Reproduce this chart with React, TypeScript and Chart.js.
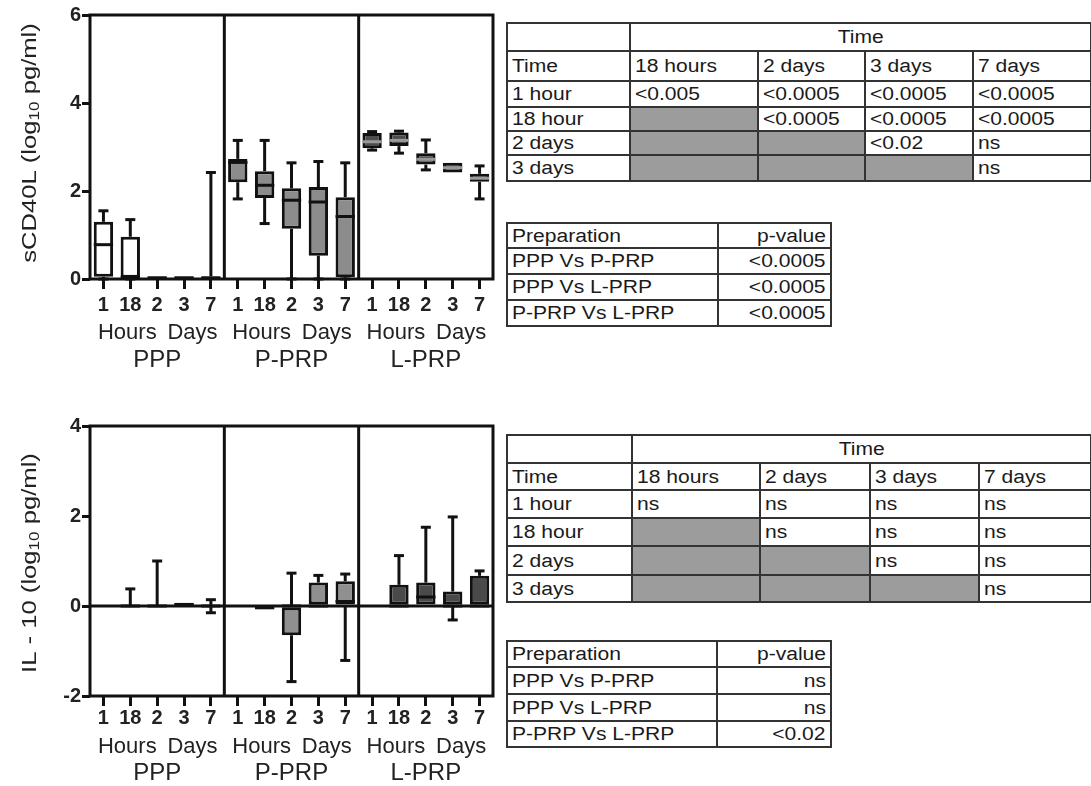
import React, { useEffect, useRef } from "react";
import { Chart, registerables } from "chart.js";

Chart.register(...registerables);

const FONT = '"Liberation Sans", Arial, Helvetica, sans-serif';

// ---------- shared category data ----------
const timeLabels = ["1", "18", "2", "3", "7", "1", "18", "2", "3", "7", "1", "18", "2", "3", "7"];
const groupNames = ["PPP", "P-PRP", "L-PRP"];
const unitNames = ["Hours", "Days"];

// ---------- sCD40L (log10 pg/ml) box statistics ----------
const sMin = [0, 0, 0, 0, 0, 1.82, 1.26, 0, 0, 0, 2.93, 2.86, 2.48, 2.42, 1.82];
const sQ1 = [0.05, 0.03, 0, 0, 0, 2.2, 1.84, 1.14, 0.53, 0.04, 2.97, 3.02, 2.6, 2.42, 2.21];
const sMed = [0.78, 0.04, 0.02, 0.02, 0.02, 2.65, 2.13, 1.79, 1.75, 1.42, 3.12, 3.15, 2.72, 2.53, 2.29];
const sQ3 = [1.3, 0.96, 0.06, 0.06, 0.06, 2.73, 2.45, 2.06, 2.09, 1.86, 3.32, 3.33, 2.86, 2.64, 2.39];
const sMax = [1.55, 1.35, 0.06, 0.06, 2.42, 3.15, 3.15, 2.64, 2.67, 2.64, 3.35, 3.36, 3.16, 2.64, 2.57];
const sTicks = [0, 2, 4, 6];

// ---------- IL-10 (log10 pg/ml) box statistics ----------
const iMin = [null, 0, 0, 0, -0.15, null, -0.04, -1.68, 0, -1.21, null, 0, 0, -0.31, 0];
const iQ1 = [null, 0, 0, 0, 0, null, -0.04, -0.65, 0, 0, null, 0, 0, 0, 0];
const iMed = [null, 0, 0, 0.03, 0, null, -0.04, 0, 0, 0.1, null, 0, 0.2, 0, 0];
const iQ3 = [null, 0, 0, 0.07, 0, null, 0, 0, 0.52, 0.55, null, 0.47, 0.52, 0.32, 0.67];
const iMax = [null, 0.38, 1.0, 0.07, 0.14, null, 0, 0.73, 0.68, 0.71, null, 1.12, 1.75, 1.98, 0.78];
const iTicks = [-2, 0, 2, 4];

// ---------- colours per group ----------
const topFills = ["#ffffff", "#8c8c8c", "#4d4d4d"];
const topMedians = ["#111111", "#111111", "#9a9a9a"];
const botFills = ["#111111", "#909090", "#4a4a4a"];
const botMedians = ["#111111", "#111111", "#111111"];

// ---------- tables ----------
const t1ColHeads = ["18 hours", "2 days", "3 days", "7 days"];
const t1RowHeads = ["1 hour", "18 hour", "2 days", "3 days"];
const t1Vals = [
  ["<0.005", "<0.0005", "<0.0005", "<0.0005"],
  [null, "<0.0005", "<0.0005", "<0.0005"],
  [null, null, "<0.02", "ns"],
  [null, null, null, "ns"],
];
const t2Rows = ["PPP Vs P-PRP", "PPP Vs L-PRP", "P-PRP Vs L-PRP"];
const t2Vals = ["<0.0005", "<0.0005", "<0.0005"];
const t3Vals = [
  ["ns", "ns", "ns", "ns"],
  [null, "ns", "ns", "ns"],
  [null, null, "ns", "ns"],
  [null, null, null, "ns"],
];
const t4Rows = ["PPP Vs P-PRP", "PPP Vs L-PRP", "P-PRP Vs L-PRP"];
const t4Vals = ["ns", "ns", "<0.02"];

const boxPlugin = {
  id: "boxes",
  afterDatasetsDraw(chart: any, _args: any, opts: any) {
    const { ctx, chartArea: a } = chart;
    const xs = chart.scales.x;
    const ys = chart.scales.y;
    const meta = chart.getDatasetMeta(0);
    const line = (x1: number, y1: number, x2: number, y2: number, color = "#111") => {
      ctx.beginPath();
      ctx.strokeStyle = color;
      ctx.moveTo(x1, y1);
      ctx.lineTo(x2, y2);
      ctx.stroke();
    };
    ctx.save();
    ctx.lineWidth = 3;
    ctx.lineCap = "butt";
    const st = opts.stats;
    for (let i = 0; i < st.q1.length; i++) {
      if (st.q1[i] == null) continue;
      const cx = xs.getPixelForValue(i);
      const bw = meta.data[i].width;
      const cap = 10;
      if (st.max[i] > st.q3[i]) {
        line(cx, ys.getPixelForValue(st.q3[i]), cx, ys.getPixelForValue(st.max[i]));
        line(cx - cap / 2, ys.getPixelForValue(st.max[i]), cx + cap / 2, ys.getPixelForValue(st.max[i]));
      }
      if (st.min[i] < st.q1[i]) {
        line(cx, ys.getPixelForValue(st.q1[i]), cx, ys.getPixelForValue(st.min[i]));
        line(cx - cap / 2, ys.getPixelForValue(st.min[i]), cx + cap / 2, ys.getPixelForValue(st.min[i]));
      }
      const g = Math.floor(i / 5);
      line(cx - bw / 2, ys.getPixelForValue(st.med[i]), cx + bw / 2, ys.getPixelForValue(st.med[i]), opts.medians[g]);
    }
    // frame and group dividers
    ctx.strokeStyle = "#111";
    ctx.strokeRect(a.left, a.top, a.right - a.left, a.bottom - a.top);
    for (const k of [5, 10]) {
      const xx = (xs.getPixelForValue(k - 1) + xs.getPixelForValue(k)) / 2;
      line(xx, a.top, xx, a.bottom);
    }
    if (opts.zeroLine) line(a.left, ys.getPixelForValue(0), a.right, ys.getPixelForValue(0));

    // unit and group labels
    ctx.fillStyle = "#222";
    ctx.textAlign = "center";
    ctx.textBaseline = "middle";
    for (let g = 0; g < 3; g++) {
      ctx.font = `22px ${FONT}`;
      const hx = xs.getPixelForValue(g * 5 + 1) - 3;
      const dx = (xs.getPixelForValue(g * 5 + 3) + xs.getPixelForValue(g * 5 + 4)) / 2 - 5;
      ctx.fillText(unitNames[0], hx, a.bottom + opts.unitDy);
      ctx.fillText(unitNames[1], dx, a.bottom + opts.unitDy);
      ctx.font = `24px ${FONT}`;
      ctx.fillText(groupNames[g], xs.getPixelForValue(g * 5 + 2), a.bottom + opts.groupDy);
    }

    // rotated y title with subscript
    const [pre, sub, post] = opts.title;
    ctx.font = `21px ${FONT}`;
    const w1 = ctx.measureText(pre).width;
    const w3 = ctx.measureText(post).width;
    ctx.font = `14px ${FONT}`;
    const w2 = ctx.measureText(sub).width;
    const W = w1 + w2 + w3;
    ctx.translate(30, (a.top + a.bottom) / 2 + opts.titleDy);
    ctx.rotate(-Math.PI / 2);
    ctx.scale(1.22, 1);
    ctx.textAlign = "left";
    ctx.font = `21px ${FONT}`;
    ctx.fillText(pre, -W / 2, 0);
    ctx.font = `14px ${FONT}`;
    ctx.fillText(sub, -W / 2 + w1, 5);
    ctx.font = `21px ${FONT}`;
    ctx.fillText(post, -W / 2 + w1 + w2, 0);
    ctx.restore();
  },
};

type BoxProps = {
  width: number;
  height: number;
  top: number;
  yMin: number;
  yMax: number;
  ticks: number[];
  min: (number | null)[];
  q1: (number | null)[];
  med: (number | null)[];
  q3: (number | null)[];
  max: (number | null)[];
  fills: string[];
  medians: string[];
  padTop: number;
  xHeight: number;
  labelPad: number;
  unitDy: number;
  groupDy: number;
  title: string[];
  titleDy: number;
  zeroLine: boolean;
};

function BoxChart(p: BoxProps) {
  const ref = useRef<HTMLCanvasElement>(null);
  useEffect(() => {
    if (!ref.current) return;
    const boxes = p.q1.map((q, i) => (q == null ? null : [q, p.q3[i] as number]));
    const fills = timeLabels.map((_, i) => p.fills[Math.floor(i / 5)]);
    const chart = new Chart(ref.current, {
      type: "bar",
      data: {
        labels: timeLabels,
        datasets: [
          {
            data: boxes as any,
            backgroundColor: fills,
            borderColor: "#111",
            borderWidth: 3,
            borderSkipped: false,
            barPercentage: 0.72,
            categoryPercentage: 1,
          },
        ],
      },
      options: {
        responsive: false,
        animation: false,
        layout: { padding: { top: p.padTop, right: 7, left: 0, bottom: 0 } },
        plugins: {
          legend: { display: false },
          tooltip: { enabled: false },
          boxes: {
            stats: { min: p.min, q1: p.q1, med: p.med, q3: p.q3, max: p.max },
            medians: p.medians,
            unitDy: p.unitDy,
            groupDy: p.groupDy,
            title: p.title,
            titleDy: p.titleDy,
            zeroLine: p.zeroLine,
          },
        } as any,
        scales: {
          x: {
            offset: true,
            grid: { display: true, drawOnChartArea: false, offset: false, tickLength: 10, lineWidth: 3, color: "#111" },
            border: { display: false },
            ticks: {
              font: { family: FONT, size: 20, weight: "bold" },
              color: "#222",
              padding: p.labelPad,
              maxRotation: 0,
              autoSkip: false,
            },
            afterFit: (s: any) => {
              s.height = p.xHeight;
            },
          },
          y: {
            min: p.yMin,
            max: p.yMax,
            afterBuildTicks: (s: any) => {
              s.ticks = p.ticks.map((v) => ({ value: v }));
            },
            grid: { display: true, drawOnChartArea: false, tickLength: 8, lineWidth: 3, color: "#111" },
            border: { display: false },
            ticks: {
              font: { family: FONT, size: 20, weight: "bold" },
              color: "#222",
              padding: 1,
            },
            afterFit: (s: any) => {
              s.width = 90;
            },
          },
        },
      } as any,
      plugins: [boxPlugin],
    });
    return () => chart.destroy();
  }, []);
  return (
    <canvas
      ref={ref}
      width={p.width}
      height={p.height}
      style={{ position: "absolute", left: 0, top: p.top, width: p.width, height: p.height, display: "block" }}
    />
  );
}

function Txt({ children, align = "left" }: { children: any; align?: string }) {
  return (
    <span
      style={{
        display: "inline-block",
        transform: "scaleX(1.17)",
        transformOrigin: align === "right" ? "right center" : align === "center" ? "center center" : "left center",
        whiteSpace: "nowrap",
      }}
    >
      {children}
    </span>
  );
}

const cellBase: React.CSSProperties = {
  border: "2px solid #333",
  padding: "0 4px",
  fontFamily: FONT,
  fontSize: 18,
  lineHeight: "18px",
  color: "#1a1a1a",
  verticalAlign: "middle",
  overflow: "hidden",
  whiteSpace: "nowrap",
};
const GRAY = "#9c9c9c";

function TimeTable({ left, top, cols, rows, vals }: { left: number; top: number; cols: number[]; rows: number[]; vals: (string | null)[][] }) {
  return (
    <table
      style={{
        position: "absolute",
        left,
        top,
        borderCollapse: "collapse",
        tableLayout: "fixed",
        width: cols.reduce((s, c) => s + c, 0),
      }}
    >
      <colgroup>
        {cols.map((c, i) => (
          <col key={i} style={{ width: c }} />
        ))}
      </colgroup>
      <tbody>
        <tr style={{ height: rows[0] }}>
          <td style={cellBase}></td>
          <td colSpan={4} style={{ ...cellBase, textAlign: "center" }}>
            <Txt align="center">Time</Txt>
          </td>
        </tr>
        <tr style={{ height: rows[1] }}>
          <td style={cellBase}>
            <Txt>Time</Txt>
          </td>
          {t1ColHeads.map((h) => (
            <td key={h} style={cellBase}>
              <Txt>{h}</Txt>
            </td>
          ))}
        </tr>
        {t1RowHeads.map((r, ri) => (
          <tr key={r} style={{ height: rows[ri + 2] }}>
            <td style={cellBase}>
              <Txt>{r}</Txt>
            </td>
            {vals[ri].map((v, ci) => (
              <td key={ci} style={{ ...cellBase, background: v == null ? GRAY : "#fff" }}>
                {v == null ? null : <Txt>{v}</Txt>}
              </td>
            ))}
          </tr>
        ))}
      </tbody>
    </table>
  );
}

function PrepTable({ left, top, cols, rows, names, vals }: { left: number; top: number; cols: number[]; rows: number[]; names: string[]; vals: string[] }) {
  return (
    <table
      style={{
        position: "absolute",
        left,
        top,
        borderCollapse: "collapse",
        tableLayout: "fixed",
        width: cols.reduce((s, c) => s + c, 0),
      }}
    >
      <colgroup>
        {cols.map((c, i) => (
          <col key={i} style={{ width: c }} />
        ))}
      </colgroup>
      <tbody>
        <tr style={{ height: rows[0] }}>
          <td style={cellBase}>
            <Txt>Preparation</Txt>
          </td>
          <td style={{ ...cellBase, textAlign: "right" }}>
            <Txt align="right">p-value</Txt>
          </td>
        </tr>
        {names.map((n, i) => (
          <tr key={n} style={{ height: rows[i + 1] }}>
            <td style={cellBase}>
              <Txt>{n}</Txt>
            </td>
            <td style={{ ...cellBase, textAlign: "right" }}>
              <Txt align="right">{vals[i]}</Txt>
            </td>
          </tr>
        ))}
      </tbody>
    </table>
  );
}

export default function App() {
  return (
    <div style={{ position: "absolute", left: 0, top: 0, width: 1091, height: 786, overflow: "hidden", background: "#fff" }}>
      <BoxChart
        width={500}
        height={390}
        top={0}
        yMin={0}
        yMax={6}
        ticks={sTicks}
        min={sMin}
        q1={sQ1}
        med={sMed}
        q3={sQ3}
        max={sMax}
        fills={topFills}
        medians={topMedians}
        padTop={15}
        xHeight={111}
        labelPad={4}
        unitDy={54}
        groupDy={81}
        title={["sCD40L (log", "10", " pg/ml)"]}
        titleDy={-4}
        zeroLine={false}
      />
      <BoxChart
        width={500}
        height={376}
        top={410}
        yMin={-2}
        yMax={4}
        ticks={iTicks}
        min={iMin}
        q1={iQ1}
        med={iMed}
        q3={iQ3}
        max={iMax}
        fills={botFills}
        medians={botMedians}
        padTop={16}
        xHeight={90}
        labelPad={0}
        unitDy={51}
        groupDy={77}
        title={["IL - 10 (log", "10", " pg/ml)"]}
        titleDy={2}
        zeroLine={true}
      />
      <TimeTable left={506} top={22} cols={[123, 128, 107, 108, 118]} rows={[28, 30, 26, 24, 24, 26]} vals={t1Vals} />
      <PrepTable left={506} top={222} cols={[211, 113]} rows={[25, 26, 26, 26]} names={t2Rows} vals={t2Vals} />
      <TimeTable left={506} top={434} cols={[125, 128, 110, 109, 112]} rows={[28, 27, 28, 28, 29, 27]} vals={t3Vals} />
      <PrepTable left={506} top={640} cols={[210, 114]} rows={[26, 27, 27, 26]} names={t4Rows} vals={t4Vals} />
    </div>
  );
}
